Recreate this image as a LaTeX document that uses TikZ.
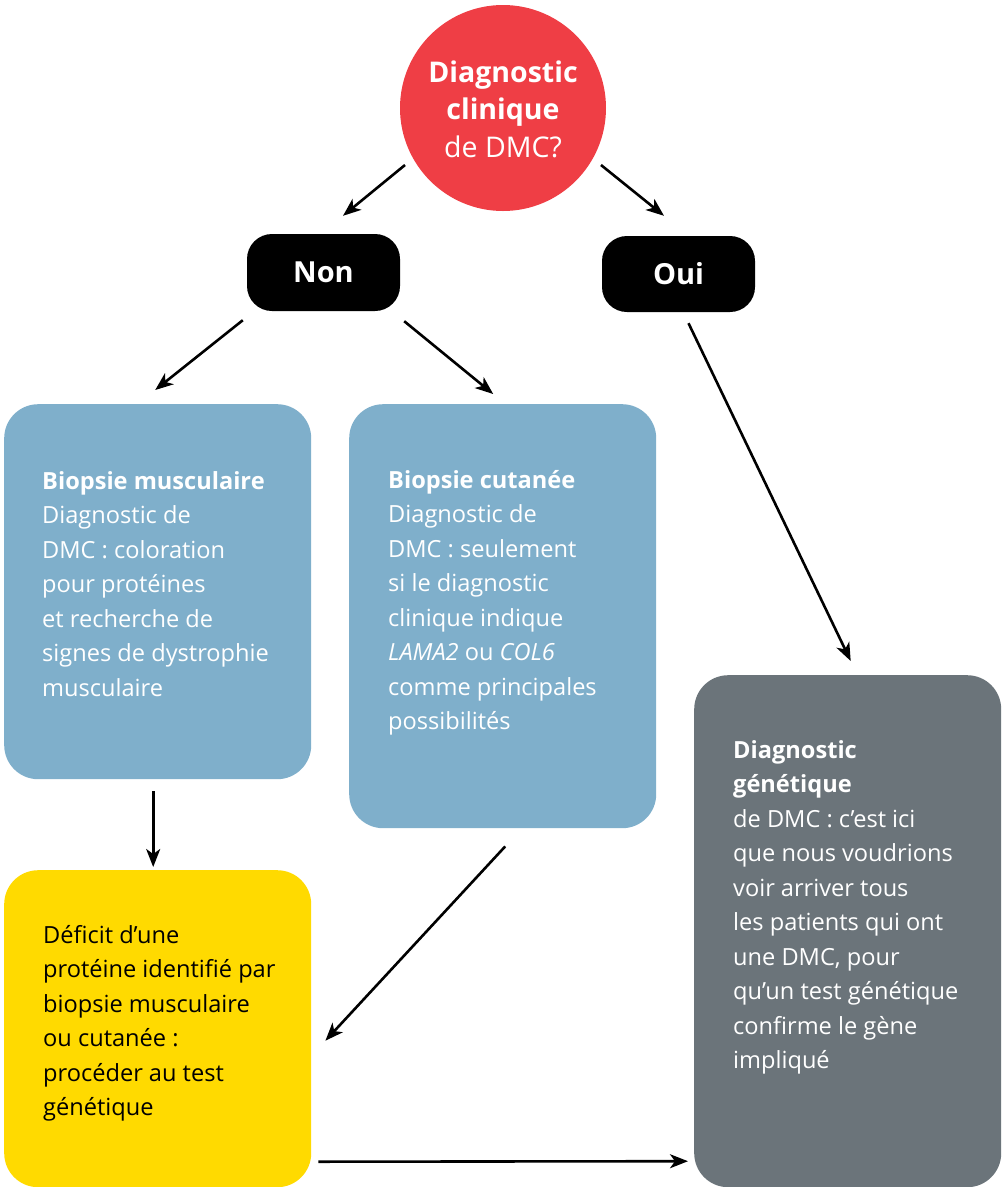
\documentclass[tikz,border=0pt]{standalone}
\usepackage{fontspec}
\setmainfont{Open Sans}
\usetikzlibrary{arrows.meta,calc}
\definecolor{cred}{HTML}{EF3E45}
\definecolor{cblue}{HTML}{7FAFCB}
\definecolor{cgray}{HTML}{6B747A}
\definecolor{cyel}{HTML}{FFDA00}
\begin{document}
\begin{tikzpicture}[x=1pt,y=1pt,
  box/.style={rounded corners=34pt, inner sep=0pt, anchor=north west},
  pill/.style={fill=black, rounded corners=25pt, inner sep=0pt, minimum width=153pt, minimum height=77pt, text=white, font=\fontsize{29}{34}\selectfont\bfseries},
  arr/.style={-{Stealth[length=18pt,width=14pt,inset=5pt]}, line width=2.6pt},
  txt/.style={anchor=base west, align=left, inner sep=0pt, font=\fontsize{23.6}{34.5}\selectfont, text=white},
]
\useasboundingbox (0,0) rectangle (1007,-1187);

% shapes
\node[circle, fill=cred, minimum size=206pt, inner sep=0pt] (circ) at (503,-108) {};
\node[anchor=base, align=center, inner sep=0pt, text=white, font=\fontsize{28.5}{37.5}\selectfont] (circt) at (503,-157) {\textbf{Diagnostic}\\\textbf{clinique}\\de DMC?};

\node[pill] (non) at (323.5,-272.5) {Non};
\node[pill, minimum height=76pt] (oui) at (678.5,-274) {Oui};

\node[box, fill=cblue, minimum width=307pt, minimum height=375pt] (b1) at (4,-404) {};
\node[box, fill=cblue, minimum width=307pt, minimum height=424pt] (b2) at (349,-404) {};
\node[box, fill=cyel, minimum width=307pt, minimum height=317pt] (yel) at (4,-870) {};
\node[box, fill=cgray, minimum width=307pt, minimum height=512pt] (gray) at (694,-675) {};

% texts (anchored at the baseline of the last line)
\node[txt] (b1t) at (42,-696) {\textbf{Biopsie musculaire}\\Diagnostic de\\DMC : coloration\\pour protéines\\et recherche de\\signes de dystrophie\\musculaire};
\node[txt] (b2t) at (388,-729.5) {\textbf{Biopsie cutanée}\\Diagnostic de\\DMC : seulement\\si le diagnostic\\clinique indique\\\textit{LAMA2} ou \textit{COL6}\\comme principales\\possibilités};
\node[txt, text=black] (yelt) at (43,-1115.5) {Déficit d’une\\protéine identifié par\\biopsie musculaire\\ou cutanée :\\procéder au test\\génétique};
\node[txt] (grayt) at (733,-1068.5) {\textbf{Diagnostic}\\\textbf{génétique}\\de DMC : c’est ici\\que nous voudrions\\voir arriver tous\\les patients qui ont\\une DMC, pour\\qu’un test génétique\\confirme le gène\\impliqué};

% connectors
\draw[arr] ($(circ.center)+(-98,-57)$) -- ([xshift=19.5pt,yshift=18pt]non.north);
\draw[arr] ($(circ.center)+(98,-57)$) -- ([xshift=-14.5pt,yshift=20pt]oui.north);
\draw[arr] ([xshift=-4pt,yshift=-9pt]non.south west) -- ([xshift=-2.5pt,yshift=14pt]b1.north);
\draw[arr] ([xshift=4pt,yshift=-10pt]non.south east) -- ([xshift=-9.5pt,yshift=10pt]b2.north);
\draw[arr] ([xshift=10pt,yshift=-11pt]oui.south) -- ([xshift=3pt,yshift=14pt]gray.north);
\draw[arr] ([xshift=-4.5pt,yshift=-12pt]b1.south) -- ([xshift=-4.5pt,yshift=3pt]yel.north);
\draw[arr] ([xshift=2.5pt,yshift=-18pt]b2.south) -- ([xshift=14pt,yshift=-12pt]yel.east);
\draw[arr] ([xshift=7pt,yshift=-133pt]yel.east) -- ([xshift=-6pt,yshift=-230pt]gray.west);
\end{tikzpicture}
\end{document}
